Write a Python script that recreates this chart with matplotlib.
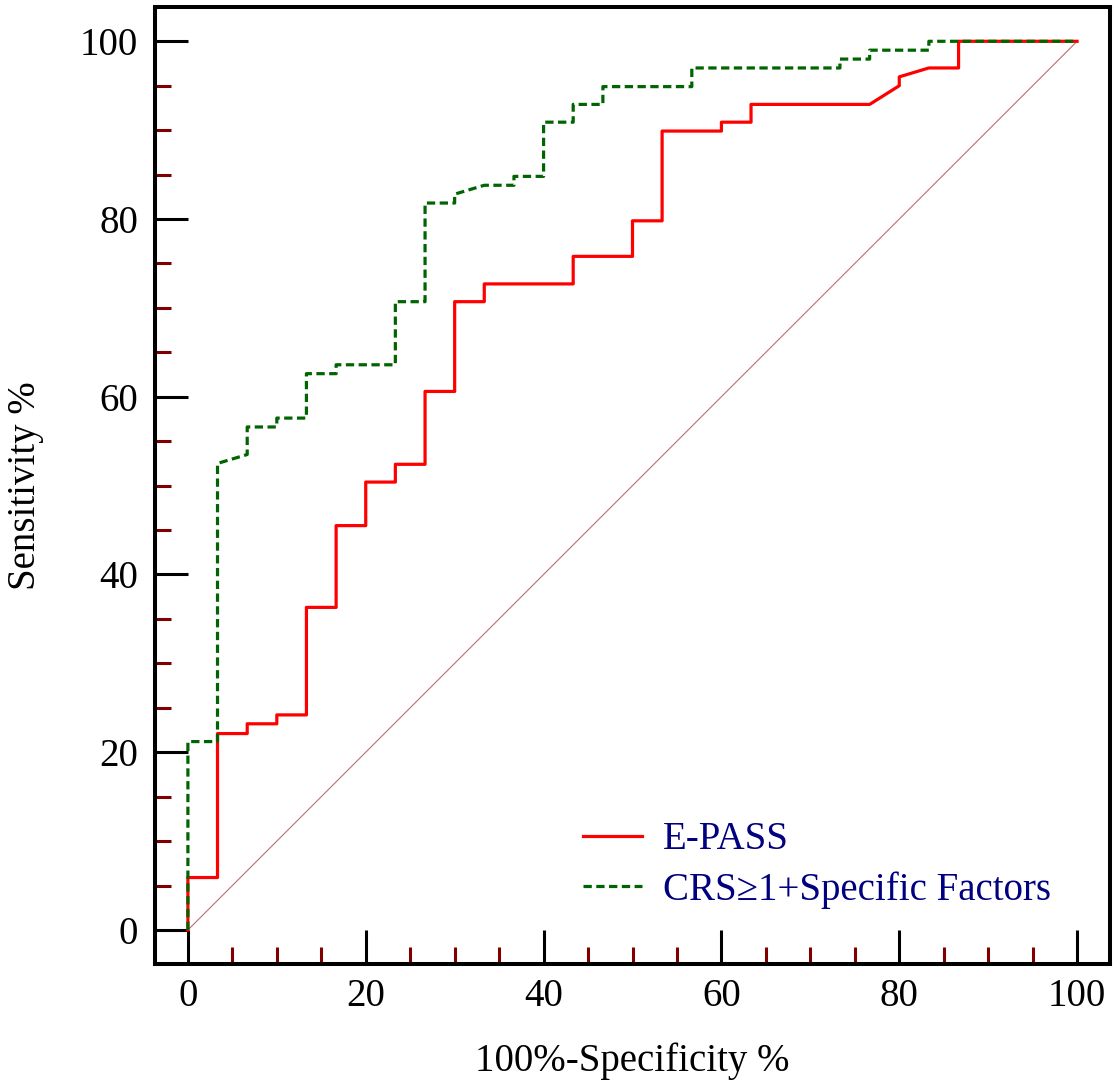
import matplotlib
matplotlib.use("Agg")
import matplotlib.pyplot as plt
from matplotlib.ticker import MultipleLocator

# ROC curve vertices (100%-Specificity %, Sensitivity %)
fpr_epass = [0, 0, 3.33, 3.33, 6.67, 6.67, 10, 10, 13.33, 13.33, 16.67, 16.67,
             20, 20, 23.33, 23.33, 26.67, 26.67, 30, 30, 33.33, 33.33, 43.33,
             43.33, 50, 50, 53.33, 53.33, 60, 60, 63.33, 63.33, 76.67, 80, 80,
             83.33, 86.67, 86.67, 100]
tpr_epass = [0, 5.9, 5.9, 22.1, 22.1, 23.2, 23.2, 24.2, 24.2, 36.3, 36.3, 45.5,
             45.5, 50.4, 50.4, 52.4, 52.4, 60.6, 60.6, 70.7, 70.7, 72.7, 72.7,
             75.8, 75.8, 79.8, 79.8, 89.9, 89.9, 90.9, 90.9, 92.9, 92.9, 95.0,
             96.0, 97.0, 97.0, 100, 100]

fpr_crs = [0, 0, 3.33, 3.33, 6.67, 6.67, 10, 10, 13.33, 13.33, 16.67, 16.67,
           23.33, 23.33, 26.67, 26.67, 30, 30, 33.33, 36.67, 36.67, 40, 40,
           43.33, 43.33, 46.67, 46.67, 56.67, 56.67, 73.33, 73.33, 76.67, 76.67,
           83.33, 83.33, 100]
tpr_crs = [0, 21.2, 21.2, 52.5, 53.5, 56.6, 56.6, 57.6, 57.6, 62.6, 62.6, 63.6,
           63.6, 70.7, 70.7, 81.8, 81.8, 82.8, 83.8, 83.8, 84.8, 84.8, 90.9,
           90.9, 92.9, 92.9, 94.9, 94.9, 97.0, 97.0, 98.0, 98.0, 99.0, 99.0,
           100, 100]

ref_line = [0, 100]
labels = ["E-PASS", "CRS\u22651+Specific Factors"]
x_label = "100%-Specificity %"
y_label = "Sensitivity %"

plt.rcParams['font.family'] = ['Liberation Serif', 'DejaVu Serif']
FS = 28

fig = plt.figure(figsize=(11.2, 10.81), dpi=100)
ax = fig.add_axes([155/1120, 1 - 964/1081, (1110-155)/1120, (964-7)/1081])

ax.plot(ref_line, ref_line, color='#b87070', lw=0.8, zorder=1)
ax.plot(fpr_epass, tpr_epass, color='#ff0000', lw=2.3, label=labels[0], zorder=2)
ax.plot(fpr_crs, tpr_crs, color='#006400', lw=2.3, dashes=(2.6, 1.4),
        label=labels[1], zorder=3)

ax.set_xlim(-3.7, 103.7)
ax.set_ylim(-3.83, 103.86)

ax.xaxis.set_major_locator(MultipleLocator(20))
ax.yaxis.set_major_locator(MultipleLocator(20))
ax.xaxis.set_minor_locator(MultipleLocator(5))
ax.yaxis.set_minor_locator(MultipleLocator(5))

for s in ax.spines.values():
    s.set_linewidth(2.9)
    s.set_color('black')

ax.tick_params(axis='x', which='major', direction='in', length=24.5, width=2.2,
               color='black', labelsize=FS, pad=10)
ax.tick_params(axis='x', which='minor', direction='in', length=12, width=2.2,
               color='#800000')
ax.tick_params(axis='y', which='major', direction='in', length=24, width=2.2,
               color='black', labelsize=FS, pad=12)
ax.tick_params(axis='y', which='minor', direction='in', length=11.5, width=2.2,
               color='#800000')

ax.set_xlabel(x_label, fontsize=FS, labelpad=20)
ax.set_ylabel(y_label, fontsize=FS, labelpad=26)

leg = ax.legend(loc='upper left', bbox_to_anchor=(0.448, 0.149), frameon=False,
                fontsize=FS, handlelength=1.52, handletextpad=0.54,
                labelspacing=0.33, borderpad=0, borderaxespad=0)
for t in leg.get_texts():
    t.set_color('#000080')

fig.savefig("out.png", dpi=100)
